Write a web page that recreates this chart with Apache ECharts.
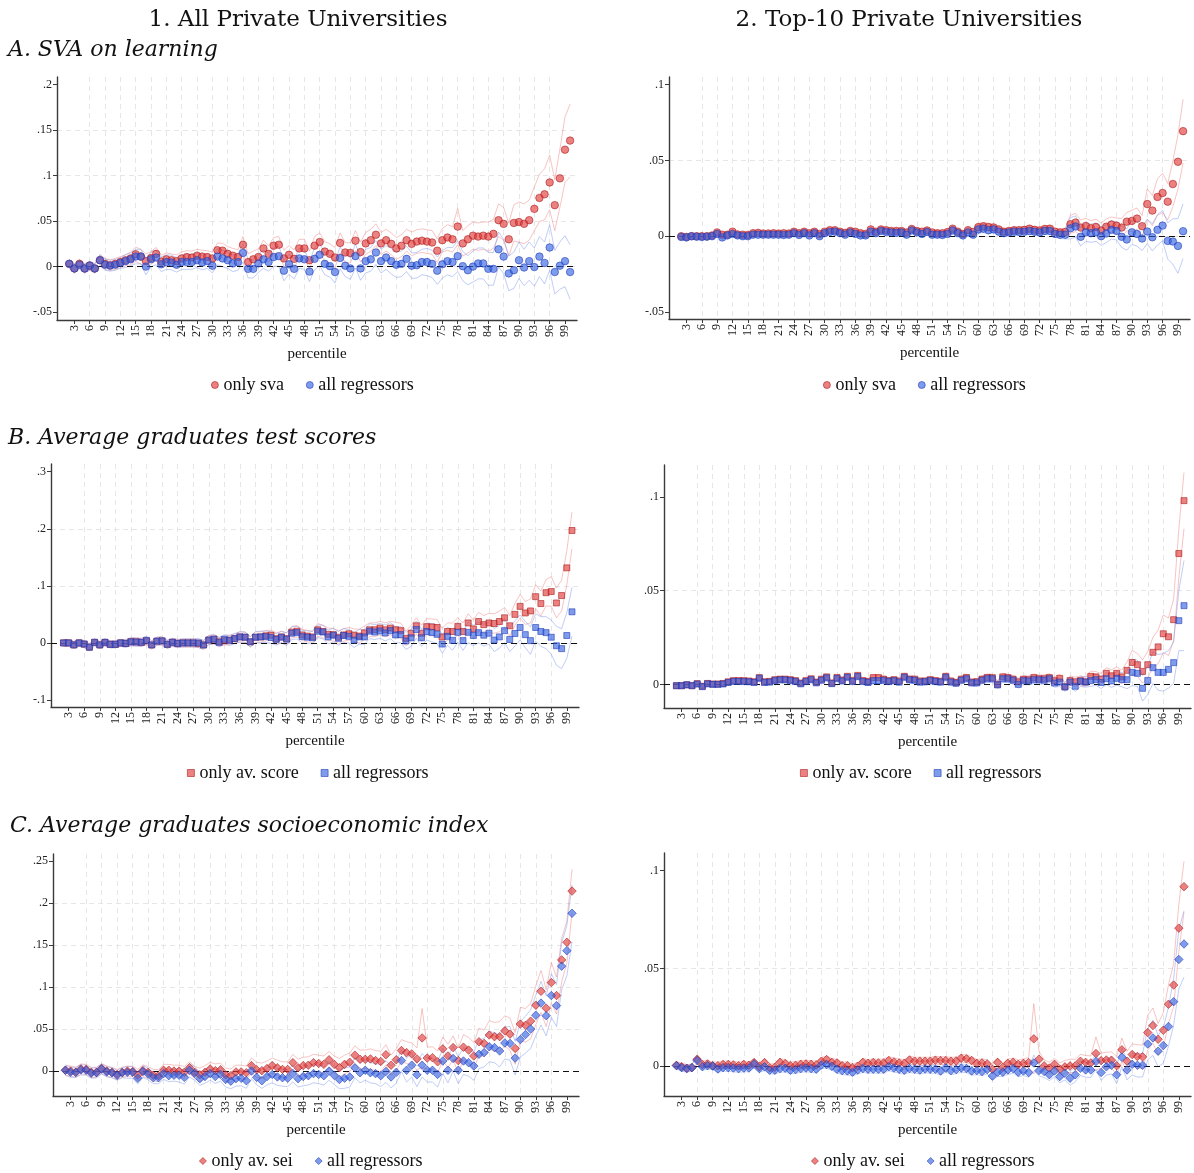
<!DOCTYPE html>
<html>
<head>
<meta charset="utf-8">
<title>Private universities by percentile</title>
<script src="https://cdn.jsdelivr.net/npm/echarts@6/dist/echarts.min.js"></script>
<style>
  html, body { margin: 0; padding: 0; background: #fff; }
  #chart { width: 1194px; height: 1173px; }
</style>
</head>
<body>
<div id="chart"></div>
<script>
// ---- data -------------------------------------------------------------
const percentiles = [
  2,3,4,5,6,7,8,9,10,11,
  12,13,14,15,16,17,18,19,20,21,
  22,23,24,25,26,27,28,29,30,31,
  32,33,34,35,36,37,38,39,40,41,
  42,43,44,45,46,47,48,49,50,51,
  52,53,54,55,56,57,58,59,60,61,
  62,63,64,65,66,67,68,69,70,71,
  72,73,74,75,76,77,78,79,80,81,
  82,83,84,85,86,87,88,89,90,91,
  92,93,94,95,96,97,98,99,100
];
const xTicks = [3,6,9,12,15,18,21,24,27,30,33,36,39,42,45,48,51,54,57,60,63,66,69,72,75,78,81,84,87,90,93,96,99];

// A. SVA on learning, all private universities
const svaAllOnly = [
  .003,-.002,.003,-.002,.001,-.002,.007,.003,.0015,.003,
  .005,.007,.009,.0135,.011,.006,.0095,.014,.0055,.008,
  .007,.006,.009,.0105,.010,.012,.011,.0105,.009,.018,
  .0175,.014,.012,.0105,.024,.005,.008,.0105,.020,.014,
  .023,.024,.009,.013,.0085,.020,.020,.007,.023,.027,
  .0165,.014,.010,.026,.0155,.015,.0285,.016,.0255,.029,
  .035,.0255,.029,.025,.020,.023,.029,.025,.0275,.0285,
  .0275,.0265,.0175,.029,.032,.030,.044,.0255,.030,.034,
  .033,.034,.033,.036,.051,.047,.030,.048,.049,.047,
  .051,.0635,.0755,.0795,.0925,.0675,.097,.1285,.1385
];
const svaAllFull = [
  .003,-.002,.002,-.002,.001,-.002,.007,.002,.001,.002,
  .004,.006,.008,.011,.011,0,.008,.010,.0025,.005,
  .0045,.002,.005,.005,.005,.007,.0045,.006,.001,.011,
  .009,.007,.0035,.005,.015,-.0025,-.0025,.0035,.008,.005,
  .0105,.0115,-.0045,.0025,-.0025,.009,.008,-.0055,.0085,.013,
  .003,.0005,-.006,.0095,.001,-.002,.0115,-.002,.006,.008,
  .0155,.006,.010,.006,.002,.003,.0085,.001,.0015,.005,
  .005,.003,-.0045,.0025,.006,.005,.0115,.0005,-.004,0,
  .0035,.0035,-.0025,-.0025,.019,.011,-.0075,-.004,.007,-.001,
  .006,-.0005,.011,.004,.021,-.006,.001,.006,-.006
];
const svaAllOnlyCI = [
  .005,.005,.005,.005,.005,.005,.006,.006,.006,.006,
  .006,.006,.007,.008,.008,.008,.007,.007,.007,.007,
  .007,.007,.007,.007,.007,.007,.007,.007,.007,.008,
  .008,.008,.008,.008,.009,.009,.009,.009,.009,.009,
  .009,.009,.009,.010,.010,.010,.010,.010,.010,.010,
  .011,.011,.011,.011,.011,.011,.011,.011,.012,.012,
  .012,.012,.012,.012,.012,.012,.012,.013,.013,.013,
  .013,.013,.013,.013,.014,.014,.020,.014,.015,.015,
  .015,.015,.016,.016,.018,.018,.018,.020,.022,.022,
  .022,.024,.026,.028,.030,.028,.032,.036,.040
];
const svaAllFullCI = [
  .005,.005,.005,.005,.005,.005,.006,.006,.006,.006,
  .006,.007,.007,.008,.008,.009,.008,.008,.008,.008,
  .008,.008,.008,.008,.008,.008,.008,.008,.008,.009,
  .009,.009,.009,.009,.010,.010,.010,.010,.010,.010,
  .010,.011,.011,.011,.011,.011,.011,.011,.012,.012,
  .012,.012,.012,.012,.012,.012,.013,.013,.013,.013,
  .013,.013,.013,.014,.014,.014,.014,.014,.014,.014,
  .015,.015,.015,.015,.015,.016,.017,.016,.016,.017,
  .017,.017,.018,.018,.019,.019,.019,.020,.020,.020,
  .021,.021,.022,.023,.025,.024,.026,.028,.030
];

// A. SVA on learning, top-10 private universities
const svaTopOnly = [
  0,-.0005,0,0,0,0,.0005,.0025,.001,.001,
  .003,.0012,.001,.0008,.002,.0022,.0018,.0018,.002,.0018,
  .002,.0018,.003,.002,.003,.002,.003,.0015,.003,.004,
  .004,.003,.0022,.0035,.003,.002,.0015,.0045,.003,.0045,
  .004,.0035,.0035,.0035,.0025,.0048,.0035,.003,.0038,.0025,
  .002,.002,.0028,.005,.003,.0015,.004,.0028,.006,.0065,
  .006,.0058,.0045,.003,.0035,.004,.004,.0042,.005,.0042,
  .0038,.0048,.005,.003,.0025,.0028,.0079,.009,.0057,.0068,
  .0053,.0061,.0037,.0063,.0077,.007,.0057,.0096,.0101,.0116,
  .0066,.0212,.0169,.0259,.0285,.0228,.0344,.0491,.0693
];
const svaTopFull = [
  -.0005,-.0008,0,-.0003,-.0005,-.0003,0,.0015,-.0008,.0005,
  .0015,.0005,0,0,.001,.001,.001,.001,.001,.001,
  .0008,.001,.002,.0008,.002,.0005,.002,0,.002,.0028,
  .003,.002,.001,.0025,.0015,.0005,.0005,.003,.002,.0035,
  .0028,.0025,.0022,.0025,.001,.0038,.0025,.0015,.0028,.001,
  .001,.0008,.0015,.0038,.002,.0005,.0025,.001,.0045,.005,
  .004,.0045,.003,.002,.0025,.003,.0028,.003,.0035,.003,
  .0025,.0035,.0035,.0015,.001,.001,.0052,.0064,-.0004,.0026,
  .002,.0026,0,.0018,.0042,.0035,-.0004,-.0022,.0026,.0015,
  -.0015,.0031,-.0007,.0042,.007,-.0031,-.0035,-.0064,.0033
];
const svaTopOnlyCI = [
  .0012,.0012,.0012,.0012,.0012,.0012,.0012,.0012,.0012,.0012,
  .0013,.0013,.0013,.0013,.0013,.0013,.0013,.0013,.0013,.0013,
  .0014,.0014,.0014,.0014,.0014,.0014,.0014,.0014,.0014,.0014,
  .0015,.0015,.0015,.0015,.0015,.0015,.0015,.0015,.0015,.0015,
  .0016,.0016,.0016,.0016,.0016,.0016,.0016,.0016,.0016,.0016,
  .0017,.0017,.0017,.0018,.0018,.0018,.0018,.0019,.0025,.0025,
  .0025,.002,.002,.002,.002,.002,.002,.0021,.0021,.0021,
  .0022,.0022,.0022,.0022,.0024,.0025,.006,.006,.005,.005,
  .005,.005,.005,.005,.005,.005,.006,.006,.007,.007,
  .007,.010,.010,.012,.013,.012,.015,.018,.021
];
const svaTopFullCI = [
  .0013,.0013,.0013,.0013,.0013,.0013,.0013,.0013,.0013,.0013,
  .0014,.0014,.0014,.0014,.0014,.0014,.0014,.0014,.0014,.0014,
  .0015,.0015,.0015,.0015,.0015,.0015,.0015,.0015,.0015,.0015,
  .0016,.0016,.0016,.0016,.0016,.0016,.0016,.0016,.0016,.0016,
  .0017,.0017,.0017,.0017,.0017,.0017,.0017,.0017,.0017,.0017,
  .0018,.0018,.0018,.0019,.0019,.0019,.0019,.002,.0026,.0026,
  .0026,.0021,.0021,.0021,.0021,.0021,.0021,.0022,.0022,.0022,
  .0023,.0023,.0023,.0023,.0026,.0028,.007,.007,.006,.006,
  .006,.006,.006,.006,.006,.006,.007,.007,.008,.008,
  .008,.008,.009,.010,.010,.012,.015,.018,.018
];

// B. Average graduates test scores, all private universities
const scoreAllOnly = [
  0,0,-.0035,0,-.002,-.0075,.001,-.0035,.001,-.0025,
  -.0025,0,-.001,.002,.002,.001,.0035,-.0035,.003,.0035,
  -.0025,.001,-.001,0,0,0,-.001,-.0035,.005,.0065,
  .002,.004,.005,.0075,.0105,.010,.002,.010,.0105,.0125,
  .0135,.0075,.0105,.0075,.019,.0205,.014,.012,.0105,.023,
  .020,.015,.0145,.010,.014,.016,.0135,.012,.0175,.023,
  .023,.026,.023,.026,.023,.0215,.008,.017,.030,.017,
  .0285,.028,.027,.0105,.020,.020,.029,.020,.035,.0245,
  .0375,.032,.035,.034,.0375,.044,.030,.050,.064,.0525,
  .056,.081,.069,.088,.090,.070,.083,.1315,.197
];
const scoreAllFull = [
  0,0,-.0035,0,-.002,-.0075,.001,-.0035,.001,-.0025,
  -.0025,0,-.001,.002,.0015,.001,.0045,-.0035,.003,.0035,
  -.0025,.001,-.001,0,0,0,0,-.0035,.005,.0065,
  .001,.0065,.0045,.0075,.0105,.010,.002,.010,.0105,.011,
  .0095,.006,.010,.0065,.017,.018,.011,.010,.009,.0205,
  .019,.0105,.0135,.008,.013,.0115,.005,.0105,.0105,.0205,
  .019,.021,.0175,.0215,.014,.0145,.0035,.009,.0235,.009,
  .020,.018,.015,-.002,.0115,.0045,.0185,.004,.0185,.013,
  .018,.0135,.017,.005,.0105,.0215,.006,.0165,.027,.0145,
  .004,.027,.020,.018,.010,-.005,-.010,.013,.0545
];
const scoreAllOnlyCI = [
  .006,.006,.006,.006,.006,.006,.006,.006,.006,.006,
  .006,.006,.006,.007,.007,.007,.007,.007,.007,.007,
  .007,.007,.007,.007,.007,.007,.007,.007,.008,.008,
  .008,.008,.008,.008,.009,.009,.009,.009,.009,.009,
  .009,.010,.010,.010,.010,.010,.010,.010,.010,.011,
  .011,.011,.011,.011,.011,.011,.011,.012,.012,.012,
  .012,.012,.012,.012,.013,.013,.013,.014,.014,.014,
  .014,.014,.014,.015,.015,.015,.015,.015,.016,.016,
  .016,.016,.017,.017,.018,.018,.018,.019,.021,.020,
  .021,.021,.022,.023,.026,.026,.027,.030,.032
];
const scoreAllFullCI = [
  .006,.006,.006,.006,.006,.006,.006,.006,.006,.006,
  .006,.006,.007,.007,.007,.007,.007,.007,.007,.007,
  .007,.007,.007,.007,.007,.007,.008,.008,.008,.008,
  .008,.008,.009,.009,.009,.009,.009,.010,.010,.010,
  .010,.010,.010,.011,.011,.011,.011,.011,.011,.011,
  .012,.012,.012,.012,.012,.012,.013,.013,.013,.013,
  .013,.013,.014,.014,.014,.014,.015,.015,.015,.015,
  .015,.016,.016,.016,.016,.017,.017,.017,.018,.018,
  .018,.019,.019,.020,.020,.021,.021,.022,.022,.023,
  .024,.024,.026,.028,.030,.034,.035,.040,.043
];

// B. Average graduates test scores, top-10 private universities
const scoreTopOnly = [
  -.0007,-.0007,-.0002,-.0007,.0004,-.001,.0005,.0002,.0002,.0005,
  .0014,.002,.002,.002,.0018,.0014,.0036,.0014,.0016,.0025,
  .0028,.0028,.0025,.002,.0007,.002,.003,.0012,.0028,.004,
  .0007,.0037,.0023,.0043,.002,.0048,.002,.0016,.0036,.0036,
  .0028,.002,.0025,.0018,.0043,.0028,.0028,.0018,.0018,.0025,
  .002,.0016,.0043,.0018,.001,.0028,.0037,.0012,.0014,.0028,
  .0037,.0036,0,.004,.0036,.0028,.0014,.0027,.0025,.0036,
  .003,.003,.0036,.002,.0032,-.0012,.002,.0014,.002,.0014,
  .0043,.004,.0028,.0059,.0046,.0059,.004,.0075,.0117,.0105,
  .0069,.0105,.0171,.020,.027,.0254,.0345,.0698,.098
];
const scoreTopFull = [
  -.0007,-.0007,-.0002,-.0007,.0002,-.0012,.0003,0,0,.0002,
  .001,.0016,.0016,.0015,.0014,.001,.0033,.001,.0012,.002,
  .0024,.0024,.002,.0015,.0003,.0015,.0025,.0008,.0022,.0035,
  .0004,.0032,.0018,.0038,.0015,.0042,.0015,.001,.002,.002,
  .0022,.0015,.002,.0012,.0038,.0024,.0022,.0012,.0014,.002,
  .0015,.0012,.0038,.0012,.0006,.0022,.003,.0008,.0008,.0022,
  .003,.003,-.0003,.003,.003,.0022,0,.002,.0018,.0025,
  .0024,.0022,.003,.0007,.0012,-.0014,.0012,-.001,.0016,.0012,
  .002,.0025,.001,.003,.0018,.0032,.0025,.0025,.0064,.0059,
  -.0021,.0021,.0089,.0064,.0064,.008,.0116,.034,.042
];
const scoreTopOnlyCI = [
  .0012,.0012,.0012,.0012,.0012,.0012,.0012,.0012,.0012,.0012,
  .0012,.0012,.0013,.0013,.0013,.0013,.0013,.0013,.0013,.0013,
  .0014,.0014,.0014,.0014,.0014,.0014,.0014,.0014,.0014,.0014,
  .0014,.0014,.0014,.0015,.0015,.0015,.0015,.0015,.0015,.0015,
  .0016,.0016,.0016,.0016,.0016,.0016,.0016,.0016,.0016,.0016,
  .0016,.0016,.0017,.0017,.0017,.0017,.0017,.0017,.0018,.0018,
  .0018,.0018,.0018,.0019,.0019,.0019,.0019,.002,.002,.002,
  .002,.0021,.0021,.0021,.0022,.0022,.0025,.0025,.0025,.0025,
  .0028,.0028,.003,.003,.0032,.0034,.0036,.0045,.0065,.006,
  .0062,.007,.008,.009,.010,.010,.011,.013,.015
];
const scoreTopFullCI = [
  .0013,.0013,.0013,.0013,.0013,.0013,.0013,.0013,.0013,.0013,
  .0013,.0013,.0014,.0014,.0014,.0014,.0014,.0014,.0014,.0014,
  .0015,.0015,.0015,.0015,.0015,.0015,.0015,.0015,.0015,.0015,
  .0015,.0015,.0015,.0016,.0016,.0016,.0016,.0016,.0016,.0016,
  .0017,.0017,.0017,.0017,.0017,.0017,.0017,.0017,.0017,.0017,
  .0017,.0017,.0018,.0018,.0018,.0018,.0018,.0018,.0019,.0019,
  .0019,.0019,.0019,.002,.002,.002,.002,.0021,.0021,.0021,
  .0021,.0022,.0022,.0022,.0023,.0023,.0027,.0027,.0027,.0027,
  .003,.003,.0032,.0032,.0034,.0036,.0038,.0048,.007,.007,
  .0068,.0075,.0085,.0095,.010,.010,.011,.016,.024
];

// C. Average graduates socioeconomic index, all private universities
const seiAllOnly = [
  .001,0,-.0015,.0025,.002,-.0015,-.0015,.003,0,-.0015,
  -.004,-.0015,0,-.0005,-.005,.0005,-.0015,-.005,-.0055,.001,
  .001,0,0,-.0015,.004,-.0015,-.0045,-.0015,.0025,.0005,
  .0015,-.0045,-.0055,-.001,-.001,-.002,.0065,.0015,.0005,.003,
  .0065,.004,.002,.002,.010,.004,.0065,.007,.010,.009,
  .008,.0135,.008,.004,.008,.0105,.019,.014,.014,.0145,
  .0125,.0115,.0195,.007,.0135,.0245,.022,.0205,.0145,.0395,
  .0155,.016,.011,.0265,.018,.028,.0125,.0285,.025,.018,
  .035,.033,.043,.041,.041,.048,.044,.027,.056,.0545,
  .0595,.0785,.095,.075,.1055,.090,.1325,.1535,.2145
];
const seiAllFull = [
  .001,-.0015,-.0015,.0015,.001,-.0025,-.002,.0025,-.001,-.002,
  -.005,-.002,-.0015,-.0015,-.0085,-.0005,-.0035,-.008,-.008,-.003,
  -.0055,-.005,-.005,-.0075,.001,-.003,-.009,-.0065,-.003,-.0065,
  -.004,-.010,-.012,-.009,-.0085,-.0115,0,-.0075,-.0115,-.0065,
  -.004,-.007,-.008,-.0085,-.003,-.009,-.0065,-.0055,-.003,-.004,
  -.0055,0,-.005,-.010,-.0085,-.007,.004,-.002,.001,-.002,
  -.003,-.0055,-.0005,-.007,-.0015,.0125,.001,.007,-.0045,.007,
  .001,.001,-.004,.012,.001,.015,.001,.012,.010,.006,
  .020,.022,.029,.028,.024,.0335,.033,.0155,.0375,.0435,
  .050,.0665,.081,.066,.090,.078,.125,.1435,.188
];
const seiAllOnlyCI = [
  .006,.006,.006,.006,.006,.006,.006,.006,.006,.006,
  .006,.006,.006,.006,.007,.007,.007,.007,.007,.007,
  .007,.007,.007,.007,.007,.007,.008,.008,.008,.008,
  .008,.008,.008,.008,.008,.008,.009,.009,.009,.009,
  .009,.009,.009,.009,.010,.010,.010,.010,.010,.010,
  .010,.010,.010,.011,.011,.011,.011,.011,.011,.012,
  .012,.012,.012,.012,.013,.013,.013,.013,.013,.035,
  .013,.013,.013,.014,.014,.014,.015,.015,.015,.016,
  .016,.016,.017,.017,.018,.018,.019,.019,.020,.020,
  .021,.023,.025,.022,.024,.022,.026,.025,.026
];
const seiAllFullCI = [
  .006,.006,.006,.006,.006,.006,.006,.006,.006,.006,
  .006,.006,.007,.007,.007,.007,.007,.007,.007,.007,
  .007,.007,.008,.008,.008,.008,.008,.008,.008,.008,
  .008,.009,.009,.009,.009,.009,.009,.009,.009,.010,
  .010,.010,.010,.010,.010,.010,.011,.011,.011,.011,
  .011,.011,.011,.011,.012,.012,.012,.012,.012,.012,
  .012,.013,.013,.013,.013,.013,.014,.014,.014,.014,
  .014,.014,.015,.015,.015,.015,.016,.016,.016,.017,
  .017,.017,.018,.018,.019,.019,.020,.020,.021,.022,
  .023,.024,.026,.024,.026,.025,.028,.030,.034
];

// C. Average graduates socioeconomic index, top-10 private universities
const seiTopOnly = [
  .0005,-.0002,-.001,-.0007,.0036,.0009,.0012,.0003,.0003,.0009,
  .0009,.0007,.0003,.0009,.0005,.0019,-.0002,.0019,-.0007,-.0005,
  .002,.0014,.0003,.0005,.001,.0012,.001,.0007,.0026,.0034,
  .002,.0017,.0003,.0003,-.0007,0,.002,.0015,.0019,.0017,
  .0017,.0029,.0022,.0017,.0015,.0032,.0026,.0026,.0026,.0026,
  .0031,.0029,.0029,.0026,.0027,.0041,.0038,.0029,.0015,.0017,
  .0012,-.0015,.002,-.0005,.0015,.002,.001,.0015,.0019,.014,
  .0036,.0002,-.0009,.001,-.0014,-.0003,.0002,.0002,.0026,.002,
  .0017,.0065,.0029,.0032,.0031,.0003,.0084,.0026,.006,.005,
  .0048,.0172,.0208,.0138,.0184,.0317,.0415,.0706,.0918
];
const seiTopFull = [
  .0003,-.0007,-.0012,-.0007,.003,-.0002,.0003,.0001,-.0014,-.0007,
  -.0007,-.0009,-.0012,-.0009,-.0009,.0012,-.0012,-.0003,-.002,-.002,
  -.0012,-.001,-.002,-.0017,-.0012,-.0009,-.0012,-.0015,.0007,.0009,
  0,-.0015,-.0022,-.0024,-.003,-.0019,-.0012,-.0015,-.0015,-.0015,
  -.0015,-.0003,-.0009,-.0015,-.002,-.0012,-.0015,-.0019,-.0014,-.0015,
  -.0015,-.0024,-.0009,-.0022,-.0017,-.0009,-.0012,-.0024,-.0022,-.0027,
  -.0017,-.005,-.003,-.003,-.0019,-.0012,-.003,-.0024,-.0032,.0017,
  -.0022,-.0027,-.0043,-.0024,-.0053,-.0036,-.0061,-.0043,-.001,-.0019,
  -.0019,.0024,-.0032,-.0003,.0005,-.0043,.0046,-.0019,.001,.0005,
  .0005,.0114,.0145,.0077,.0106,.0203,.033,.0546,.0625
];
const seiTopOnlyCI = [
  .0018,.0018,.0018,.0018,.0018,.0018,.0018,.0018,.0018,.0018,
  .0018,.0018,.0018,.0018,.0018,.0018,.0018,.0018,.0018,.0018,
  .0019,.0019,.0019,.0019,.0019,.0019,.0019,.0019,.0019,.0019,
  .0019,.0019,.0019,.0019,.0019,.0019,.0019,.0019,.0019,.0019,
  .002,.002,.002,.002,.002,.002,.002,.002,.002,.002,
  .002,.002,.002,.002,.002,.002,.002,.002,.002,.002,
  .0021,.0021,.0021,.0022,.0022,.0022,.0022,.0023,.0025,.018,
  .004,.003,.003,.003,.0032,.0032,.0034,.0034,.0035,.0035,
  .0036,.0085,.0038,.004,.0042,.0045,.006,.005,.0055,.006,
  .006,.009,.009,.008,.009,.010,.011,.012,.013
];
const seiTopFullCI = [
  .0018,.0018,.0018,.0018,.0018,.0018,.0018,.0018,.0018,.0018,
  .0019,.0019,.0019,.0019,.0019,.0019,.0019,.0019,.0019,.0019,
  .0019,.0019,.0019,.0019,.0019,.0019,.0019,.0019,.0019,.0019,
  .002,.002,.002,.002,.002,.002,.002,.002,.002,.002,
  .002,.002,.002,.002,.002,.002,.002,.002,.002,.002,
  .0021,.0021,.0021,.0021,.0021,.0021,.0021,.0021,.0021,.0021,
  .0022,.0022,.0022,.0022,.0023,.0023,.0023,.0024,.0024,.004,
  .0028,.003,.003,.003,.0032,.0034,.0036,.0036,.0037,.0037,
  .0038,.004,.004,.0042,.0044,.0046,.0048,.005,.0055,.006,
  .006,.008,.009,.008,.009,.010,.012,.015,.017
];

// y-axis tick values per panel
const yTicksSvaAll = [-0.05, 0, 0.05, 0.1, 0.15, 0.2];
const yTicksSvaTop = [-0.05, 0, 0.05, 0.1];
const yTicksScoreAll = [-0.1, 0, 0.1, 0.2, 0.3];
const yTicksScoreTop = [0, 0.05, 0.1];
const yTicksSeiAll = [0, 0.05, 0.1, 0.15, 0.2, 0.25];
const yTicksSeiTop = [0, 0.05, 0.1];

const columnTitles = ['1. All Private Universities', '2. Top-10 Private Universities'];
const rowTitles = ['A. SVA on learning', 'B. Average graduates test scores', 'C. Average graduates socioeconomic index'];

// ---- layout & styling --------------------------------------------------
const SERIF = '"Liberation Serif", "Times New Roman", serif';
const TITLE_SERIF = '"DejaVu Serif", "Liberation Serif", serif';
const RED = 'rgba(226,58,58,0.8)', RED_EDGE = 'rgba(170,25,25,0.9)';
const BLUE = 'rgba(48,95,225,0.78)', BLUE_EDGE = 'rgba(30,60,185,0.9)';
const RED_CI = 'rgba(238,125,125,0.45)', BLUE_CI = 'rgba(115,145,235,0.45)';

const panels = [
  { grid: { left: 57, top: 77, width: 520, height: 243 }, y: [-0.0587, 0.2084], ticks: yTicksSvaAll,
    legend: [211, 376], symbol: 'circle', size: 7.5, names: ['only sva', 'all regressors'],
    est: [svaAllOnly, svaAllFull], ci: [svaAllOnlyCI, svaAllFullCI] },
  { grid: { left: 669, top: 77, width: 521, height: 242 }, y: [-0.0546, 0.105], ticks: yTicksSvaTop,
    legend: [823, 376], symbol: 'circle', size: 7.5, names: ['only sva', 'all regressors'],
    est: [svaTopOnly, svaTopFull], ci: [svaTopOnlyCI, svaTopFullCI] },
  { grid: { left: 51, top: 464, width: 528, height: 243 }, y: [-0.1123, 0.3135], ticks: yTicksScoreAll,
    legend: [187, 764], symbol: 'rect', size: 6, names: ['only av. score', 'all regressors'],
    est: [scoreAllOnly, scoreAllFull], ci: [scoreAllOnlyCI, scoreAllFullCI] },
  { grid: { left: 664, top: 465, width: 527, height: 243 }, y: [-0.0126, 0.117], ticks: yTicksScoreTop,
    legend: [800, 764], symbol: 'rect', size: 6, names: ['only av. score', 'all regressors'],
    est: [scoreTopOnly, scoreTopFull], ci: [scoreTopOnlyCI, scoreTopFullCI] },
  { grid: { left: 53, top: 854, width: 526, height: 242 }, y: [-0.0297, 0.2587], ticks: yTicksSeiAll,
    legend: [199, 1152], symbol: 'diamond', size: 8.5, names: ['only av. sei', 'all regressors'],
    est: [seiAllOnly, seiAllFull], ci: [seiAllOnlyCI, seiAllFullCI] },
  { grid: { left: 664, top: 853, width: 527, height: 243 }, y: [-0.0152, 0.109], ticks: yTicksSeiTop,
    legend: [811, 1152], symbol: 'diamond', size: 8.5, names: ['only av. sei', 'all regressors'],
    est: [seiTopOnly, seiTopFull], ci: [seiTopOnlyCI, seiTopFullCI] }
];

function tickText(v) {
  if (Math.abs(v) < 1e-9) return '0';
  return String(+v.toFixed(3)).replace(/^(-?)0\./, '$1.');
}

const gridLine = { show: true, lineStyle: { color: '#e6e6e6', width: 1, type: [5, 4] } };
const axisDark = { show: true, onZero: false, lineStyle: { color: '#3a3a3a', width: 1.4 } };

const grids = [], xAxes = [], yAxes = [], series = [], legends = [];

panels.forEach((p, k) => {
  grids.push(Object.assign({ containLabel: false, outerBoundsMode: 'none' }, p.grid));
  xAxes.push({
    type: 'value', gridIndex: k, min: -0.4, max: 101.35,
    name: 'percentile', nameLocation: 'middle', nameGap: 27, nameMoveOverlap: false,
    nameTextStyle: { fontFamily: SERIF, fontSize: 15, color: '#111' },
    axisLine: axisDark,
    axisTick: { show: true, length: 4, customValues: xTicks, lineStyle: { color: '#3a3a3a' } },
    axisLabel: { show: true, customValues: xTicks, rotate: 90, margin: 5,
      fontFamily: SERIF, fontSize: 12, color: '#222' },
    splitLine: Object.assign({ showMinLine: false, showMaxLine: false }, gridLine)
  });
  yAxes.push({
    type: 'value', gridIndex: k, min: p.y[0], max: p.y[1],
    axisLine: axisDark,
    axisTick: { show: true, length: 4, customValues: p.ticks, lineStyle: { color: '#3a3a3a' } },
    axisLabel: { show: true, customValues: p.ticks, margin: 5, formatter: tickText,
      fontFamily: SERIF, fontSize: 12, color: '#222' },
    splitLine: Object.assign({ showMinLine: false, showMaxLine: false }, gridLine)
  });

  // confidence bounds, drawn under the point estimates
  const bands = [
    [p.est[0], p.ci[0], RED_CI],
    [p.est[1], p.ci[1], BLUE_CI]
  ];
  bands.forEach(([est, ci, color], b) => {
    [1, -1].forEach((sgn, j) => {
      const s = {
        type: 'line', xAxisIndex: k, yAxisIndex: k, silent: true, z: 1,
        showSymbol: false, symbol: 'none', animation: false,
        lineStyle: { color: color, width: 1 },
        data: percentiles.map((x, i) => [x, est[i] + sgn * ci[i]])
      };
      if (b === 0 && j === 0) {
        s.markLine = {
          silent: true, symbol: 'none', animation: false, z: 2,
          label: { show: false },
          lineStyle: { color: '#111', width: 1.2, type: [6, 4] },
          data: [{ yAxis: 0 }]
        };
      }
      series.push(s);
    });
  });

  // point estimates: single-regressor model first, full model on top
  [[RED, RED_EDGE], [BLUE, BLUE_EDGE]].forEach(([fill, edge], j) => {
    series.push({
      type: 'scatter', name: p.names[j], xAxisIndex: k, yAxisIndex: k, z: 3 + j,
      symbol: p.symbol, symbolSize: p.size, animation: false,
      itemStyle: { color: fill, borderColor: edge, borderWidth: 0.8 },
      data: percentiles.map((x, i) => [x, p.est[j][i]])
    });
  });

  legends.push({
    left: p.legend[0], top: p.legend[1], orient: 'horizontal', selectedMode: false,
    itemWidth: 7, itemHeight: 7, itemGap: 22, padding: 0,
    textStyle: { fontFamily: SERIF, fontSize: 18, color: '#111' },
    data: [
      { name: p.names[0], icon: p.symbol, itemStyle: { color: RED, borderColor: RED_EDGE, borderWidth: 0.8 } },
      { name: p.names[1], icon: p.symbol, itemStyle: { color: BLUE, borderColor: BLUE_EDGE, borderWidth: 0.8 } }
    ]
  });
});

const titleStyle = { fontFamily: TITLE_SERIF, fontSize: 23, fontWeight: 'normal', color: '#111' };
const rowStyle = Object.assign({}, titleStyle, { fontSize: 22, fontStyle: 'italic' });
const titles = [
  { text: columnTitles[0], left: 298, top: 9, textAlign: 'center', padding: 0, textStyle: titleStyle },
  { text: columnTitles[1], left: 909, top: 9, textAlign: 'center', padding: 0, textStyle: titleStyle },
  { text: rowTitles[0], left: 8, top: 39, padding: 0, textStyle: rowStyle },
  { text: rowTitles[1], left: 8, top: 427, padding: 0, textStyle: rowStyle },
  { text: rowTitles[2], left: 10, top: 815, padding: 0, textStyle: rowStyle }
];

const chart = echarts.init(document.getElementById('chart'), null, { renderer: 'canvas' });
chart.setOption({
  backgroundColor: '#ffffff',
  animation: false,
  title: titles,
  legend: legends,
  grid: grids,
  xAxis: xAxes,
  yAxis: yAxes,
  series: series
});
</script>
</body>
</html>
